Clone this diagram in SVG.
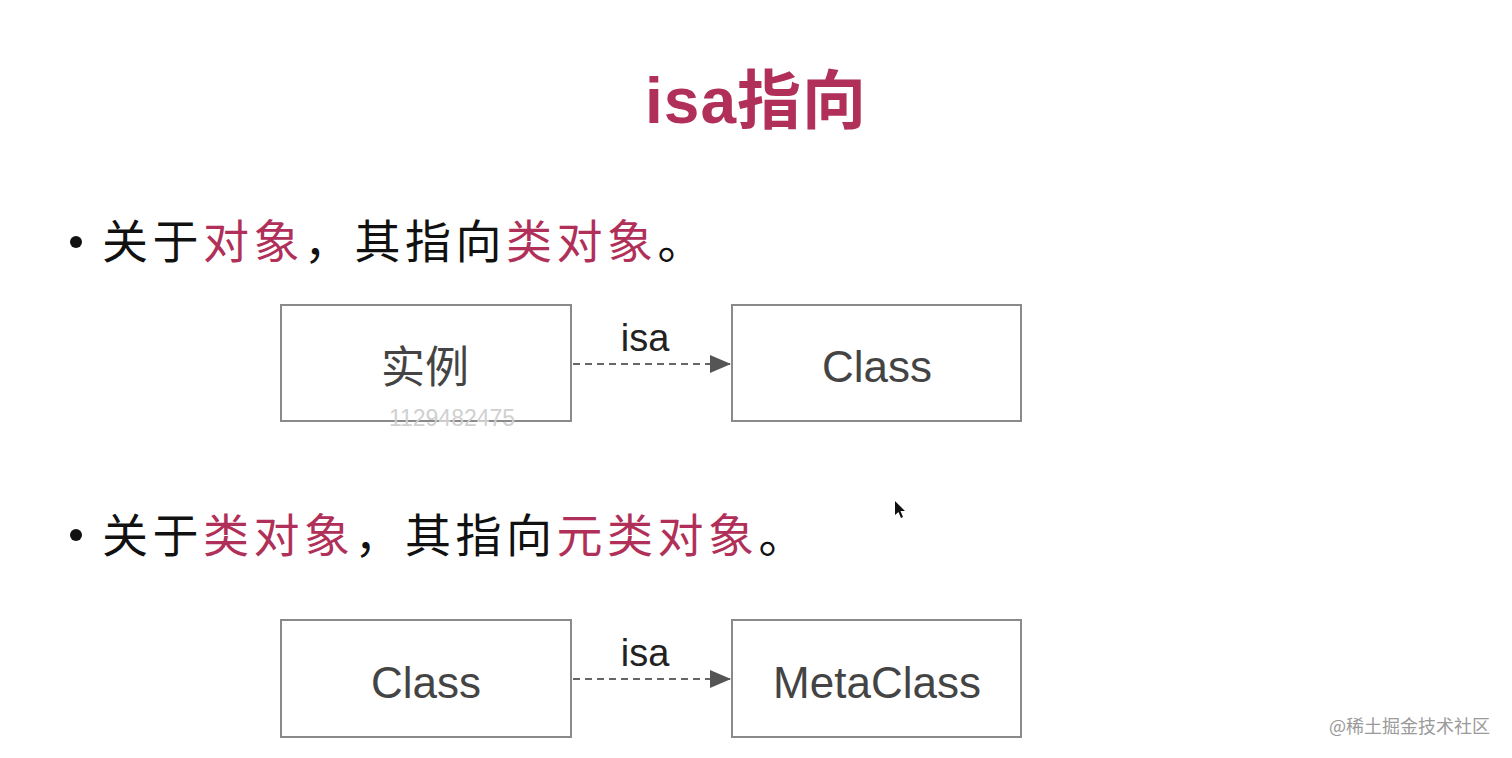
<svg xmlns="http://www.w3.org/2000/svg" width="1512" height="758" viewBox="0 0 1512 758">
<defs>
<style>
.title{font-family:"Liberation Sans","Noto Sans CJK SC",sans-serif;font-weight:bold;font-size:64px;fill:#b03059}
.bul{font-family:"Noto Sans CJK SC",sans-serif;font-size:46px;fill:#111}
.red{fill:#b03059}
.box{fill:#fff;stroke:#8a8a8a;stroke-width:2}
.lbl{font-family:"Liberation Sans","Noto Sans CJK SC",sans-serif;font-size:44px;fill:#444;text-anchor:middle}
.isa{font-family:"Liberation Sans",sans-serif;font-size:38px;fill:#222;text-anchor:middle}
.conn{stroke:#666;stroke-width:2;stroke-dasharray:7,5;fill:none}
</style>
<marker id="ah" markerWidth="22" markerHeight="18" refX="20" refY="9" orient="auto" markerUnits="userSpaceOnUse">
<path d="M0,0 L21,9 L0,18 Z" fill="#555"/>
</marker>
</defs>
<rect width="1512" height="758" fill="#fff"/>
<text class="title" x="756" y="123" text-anchor="middle" letter-spacing="1">isa指向</text>
<g id="bullet1">
<circle cx="76" cy="242" r="6" fill="#111"/>
<text class="bul" y="258" letter-spacing="4.5"><tspan x="102">关于</tspan><tspan class="red">对象</tspan><tspan>，其指向</tspan><tspan class="red">类对象</tspan><tspan>。</tspan></text>
</g>
<g id="bullet2">
<circle cx="76" cy="535" r="6" fill="#111"/>
<text class="bul" y="552" letter-spacing="4.5"><tspan x="102">关于</tspan><tspan class="red">类对象</tspan><tspan>，其指向</tspan><tspan class="red">元类对象</tspan><tspan>。</tspan></text>
</g>
<g id="node-instance">
<rect class="box" x="281" y="305" width="290" height="116"/>
<text class="lbl" x="425" y="383" font-size="46" font-family="Noto Sans CJK SC,sans-serif">实例</text>
</g>
<g id="node-class1">
<rect class="box" x="732" y="305" width="289" height="116"/>
<text class="lbl" x="877" y="382">Class</text>
</g>
<g id="node-class2">
<rect class="box" x="281" y="620" width="290" height="117"/>
<text class="lbl" x="426" y="698">Class</text>
</g>
<g id="node-metaclass">
<rect class="box" x="732" y="620" width="289" height="117"/>
<text class="lbl" x="877" y="698" font-size="45">MetaClass</text>
</g>
<g id="connectors">
<line class="conn" x1="573" y1="364" x2="730" y2="364" marker-end="url(#ah)"/>
<text class="isa" x="645" y="351">isa</text>
<line class="conn" x1="573" y1="679" x2="730" y2="679" marker-end="url(#ah)"/>
<text class="isa" x="645" y="666">isa</text>
</g>
<text x="452" y="426" font-family="Liberation Sans,sans-serif" font-size="23" fill="#d0d0d0" text-anchor="middle">1129482475</text>
<text x="1490" y="733" font-family="Noto Sans CJK SC,sans-serif" font-size="18" fill="#9a9a9a" text-anchor="end">@稀土掘金技术社区</text>
<path d="M895,501 L895,515 L898.5,512 L901,518 L903,517 L900.5,511 L905,511 Z" fill="#111"/>
</svg>
